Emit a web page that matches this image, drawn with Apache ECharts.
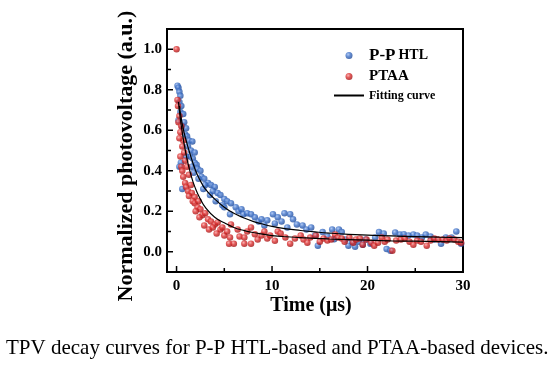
<!DOCTYPE html>
<html><head><meta charset="utf-8">
<script src="https://cdn.jsdelivr.net/npm/echarts@6/dist/echarts.min.js"></script>
<style>html,body{margin:0;padding:0;background:#fff}#c{width:558px;height:367px}</style>
</head><body><div id="c"></div>
<script>
const xMin = -1, xMax = 30, yMin = -0.1, yMax = 1.1;
const xTickLabels = [0, 10, 20, 30];
const xMinorTicks = [5, 15, 25];
const yTickLabels = [0, 0.2, 0.4, 0.6, 0.8, 1.0];
const yMinorTicks = [0.1, 0.3, 0.5, 0.7, 0.9];

const ppHtl = [[0.1,0.82],[0.2,0.81],[0.3,0.79],[0.4,0.77],[0.3,0.74],[0.5,0.72],[0.4,0.69],[0.7,0.68],[0.2,0.65],[0.8,0.64],[0.6,0.62],[1.0,0.61],[0.9,0.58],[1.1,0.57],[1.3,0.55],[1.65,0.545],[1.2,0.52],[1.5,0.50],[1.9,0.49],[1.4,0.47],[1.0,0.47],[1.7,0.46],[0.45,0.44],[1.9,0.44],[2.1,0.43],[0.3,0.42],[1.6,0.42],[2.2,0.41],[2.5,0.40],[1.8,0.39],[2.6,0.37],[2.3,0.36],[2.9,0.36],[0.6,0.31],[3.3,0.34],[3.0,0.33],[3.6,0.33],[4.0,0.32],[2.8,0.31],[3.8,0.30],[4.3,0.29],[3.5,0.28],[4.6,0.28],[5.0,0.26],[4.1,0.25],[5.3,0.25],[5.7,0.24],[4.8,0.23],[5.0,0.22],[6.2,0.22],[5.6,0.185],[6.5,0.20],[6.8,0.21],[7.0,0.185],[7.4,0.19],[7.8,0.185],[8.2,0.17],[8.6,0.15],[8.9,0.16],[9.5,0.155],[9.2,0.13],[10.1,0.185],[10.6,0.17],[10.3,0.14],[11.0,0.15],[11.3,0.19],[11.9,0.185],[12.2,0.16],[12.6,0.135],[13.2,0.13],[11.6,0.12],[13.6,0.11],[14.1,0.12],[14.5,0.08],[14.8,0.03],[15.3,0.097],[15.8,0.075],[16.3,0.11],[16.5,0.062],[17.0,0.11],[17.3,0.097],[17.7,0.06],[18.0,0.03],[18.4,0.05],[18.7,0.025],[19.1,0.05],[19.5,0.035],[19.8,0.06],[20.3,0.04],[20.8,0.07],[21.2,0.097],[21.7,0.09],[22.0,0.013],[22.4,0.005],[22.9,0.095],[23.4,0.085],[23.8,0.087],[24.3,0.08],[24.8,0.085],[25.2,0.08],[25.7,0.07],[26.1,0.085],[26.6,0.075],[27.0,0.06],[27.7,0.04],[28.2,0.07],[28.8,0.07],[29.3,0.10],[29.8,0.04]];

const ptaa = [[0.0,1.0],[0.1,0.75],[0.15,0.72],[0.3,0.67],[0.2,0.64],[0.5,0.62],[0.4,0.59],[0.7,0.55],[0.3,0.56],[0.6,0.52],[0.8,0.49],[0.4,0.47],[0.9,0.45],[0.5,0.42],[1.1,0.42],[0.6,0.40],[0.7,0.37],[1.3,0.38],[0.9,0.34],[1.0,0.32],[1.5,0.33],[1.2,0.30],[1.6,0.29],[1.3,0.275],[1.9,0.27],[1.7,0.25],[1.9,0.24],[2.3,0.25],[2.2,0.22],[2.5,0.21],[2.0,0.20],[2.7,0.18],[3.0,0.19],[2.4,0.17],[3.3,0.16],[2.9,0.13],[3.6,0.15],[3.4,0.11],[4.0,0.135],[3.8,0.12],[4.3,0.145],[4.6,0.11],[4.2,0.09],[5.0,0.08],[4.8,0.12],[5.3,0.10],[5.5,0.04],[5.6,0.07],[5.7,0.135],[6.0,0.04],[6.4,0.11],[6.6,0.075],[7.1,0.04],[7.1,0.07],[7.4,0.10],[7.8,0.04],[7.8,0.12],[8.2,0.087],[8.5,0.06],[8.9,0.08],[9.2,0.10],[9.5,0.065],[9.8,0.08],[10.3,0.054],[10.6,0.10],[10.9,0.09],[11.4,0.07],[11.9,0.04],[12.4,0.065],[13.0,0.08],[13.3,0.06],[13.7,0.045],[14.0,0.07],[14.6,0.08],[15.0,0.05],[15.4,0.065],[15.8,0.055],[16.2,0.06],[16.6,0.085],[16.9,0.07],[17.3,0.065],[17.6,0.05],[18.1,0.07],[18.5,0.045],[18.8,0.06],[19.2,0.065],[19.5,0.035],[19.9,0.06],[20.4,0.045],[20.7,0.03],[21.1,0.045],[21.5,0.07],[21.8,0.05],[22.1,0.06],[22.6,0.005],[23.0,0.055],[23.5,0.06],[23.9,0.065],[24.4,0.05],[24.8,0.035],[25.2,0.055],[25.6,0.05],[26.2,0.03],[26.6,0.055],[27.0,0.065],[27.4,0.06],[27.9,0.06],[28.3,0.055],[28.6,0.065],[29.1,0.06],[29.5,0.05],[29.8,0.045]];

const fitPpHtl = [[0.3,0.72],[0.6,0.63],[1,0.55],[1.5,0.47],[2,0.40],[2.5,0.35],[3,0.31],[4,0.26],[5,0.22],[6,0.19],[7,0.168],[8,0.15],[9,0.137],[10,0.125],[11.5,0.113],[13,0.105],[14.5,0.098],[16,0.092],[18,0.086],[20,0.082],[22.5,0.078],[25,0.075],[27.5,0.072],[30,0.07]];
const fitPtaa = [[0.2,0.74],[0.5,0.62],[1,0.48],[1.5,0.38],[2,0.31],[2.5,0.26],[3,0.22],[4,0.17],[5,0.143],[6,0.12],[7,0.106],[8,0.095],[9,0.087],[10,0.08],[11.5,0.074],[13,0.07],[14.5,0.066],[16,0.063],[18,0.06],[20,0.057],[22.5,0.054],[25,0.052],[27.5,0.05],[30,0.048]];

const serif = '"Liberation Serif","Times New Roman",serif';
const blueGrad = {type:'radial',x:0.38,y:0.35,r:0.7,colorStops:[{offset:0,color:'#9dbbf0'},{offset:0.45,color:'#3f72c8'},{offset:1,color:'#1c4592'}]};
const redGrad = {type:'radial',x:0.38,y:0.35,r:0.7,colorStops:[{offset:0,color:'#f5a0a0'},{offset:0.45,color:'#dc3030'},{offset:1,color:'#9c1010'}]};

// inward tick marks placed through the axes' own scales (api.coord)
function tickSeries(values, isX, len) {
  return {type:'custom', silent:true, z:6, clip:false,
    data: values.map(function(v){ return [v]; }),
    renderItem: function(params, api) {
      const v = api.value(0);
      if (isX) {
        const p = api.coord([v, yMin]);
        return {type:'line', shape:{x1:p[0], y1:p[1], x2:p[0], y2:p[1]-len}, style:{stroke:'#000', lineWidth:1.5}};
      }
      const p = api.coord([xMin, v]);
      return {type:'line', shape:{x1:p[0], y1:p[1], x2:p[0]+len, y2:p[1]}, style:{stroke:'#000', lineWidth:1.5}};
    }};
}

const chart = echarts.init(document.getElementById('c'), null, {renderer:'canvas'});
chart.setOption({
  animation:false,
  title:{text:'TPV decay curves for P-P HTL-based and PTAA-based devices.',left:6,top:338,padding:0,
    textStyle:{fontFamily:serif,fontSize:21,fontWeight:'normal',color:'#000'}},
  grid:{left:167,top:29,width:296,height:243,show:true,borderColor:'#000',borderWidth:2,backgroundColor:'transparent'},
  legend:{orient:'vertical',left:333,top:47,padding:0,itemWidth:30,itemHeight:7,itemGap:5,
    data:['P-P HTL','PTAA',{name:'Fitting curve',itemStyle:{opacity:0}}],
    formatter:function(n){ if(n==='P-P HTL') return '{a|P-P} {b|HTL}'; if(n==='PTAA') return '{p|PTAA}'; return '{c|Fitting curve}'; },
    textStyle:{color:'#000',fontFamily:serif,fontWeight:'bold',lineHeight:13,
      rich:{a:{fontSize:17,fontWeight:'bold',fontFamily:serif,lineHeight:13},
            b:{fontSize:14,fontWeight:'bold',fontFamily:serif,lineHeight:13},
            p:{fontSize:15,fontWeight:'bold',fontFamily:serif,lineHeight:13},
            c:{fontSize:12,fontWeight:'bold',fontFamily:serif,lineHeight:13}}}},
  xAxis:{type:'value',min:xMin,max:xMax,position:'bottom',
    name:'Time (μs)',nameLocation:'middle',nameGap:24,nameMoveOverlap:false,
    nameTextStyle:{fontFamily:serif,fontSize:20,fontWeight:'bold',color:'#000',padding:[0,8,0,0]},
    axisLine:{show:false,onZero:false},splitLine:{show:false},axisTick:{show:false},
    axisLabel:{customValues:xTickLabels,margin:7,fontFamily:serif,fontSize:15,fontWeight:'bold',color:'#000'}},
  yAxis:{type:'value',min:yMin,max:yMax,position:'left',
    name:'Normalized photovoltage (a.u.)',nameLocation:'middle',nameGap:30,nameMoveOverlap:false,
    nameTextStyle:{fontFamily:serif,fontSize:22,fontWeight:'bold',color:'#000',padding:[0,11,0,0]},
    axisLine:{show:false,onZero:false},splitLine:{show:false},axisTick:{show:false},
    axisLabel:{customValues:yTickLabels,margin:5,fontFamily:serif,fontSize:15,fontWeight:'bold',color:'#000',
      formatter:function(v){return v.toFixed(1);}}},
  series:[
    {name:'P-P HTL',type:'scatter',data:ppHtl,symbolSize:6.5,itemStyle:{color:blueGrad},z:3},
    {name:'PTAA',type:'scatter',data:ptaa,symbolSize:6.5,itemStyle:{color:redGrad},z:4},
    {name:'Fitting curve',type:'line',data:fitPpHtl,symbol:'none',smooth:true,lineStyle:{color:'#000',width:1.2},itemStyle:{color:'#000'},z:5},
    {name:'Fitting curve',type:'line',data:fitPtaa,symbol:'none',smooth:true,lineStyle:{color:'#000',width:1.2},itemStyle:{color:'#000'},z:5},
    tickSeries(xTickLabels, true, 6),
    tickSeries(xMinorTicks, true, 4),
    tickSeries(yTickLabels, false, 6),
    tickSeries(yMinorTicks, false, 4)
  ]
});
</script></body></html>
